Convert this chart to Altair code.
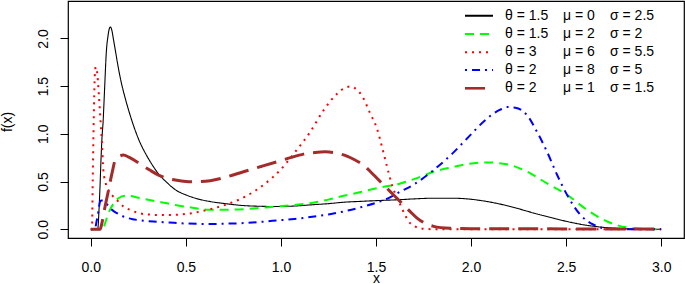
import altair as alt
import pandas as pd

# ---- data ----
black_x = [0, 0.030, 0.037, 0.043, 0.049, 0.054, 0.058, 0.065, 0.072, 0.082,
           0.090, 0.097, 0.103, 0.110, 0.120, 0.132, 0.144, 0.160, 0.180, 0.200,
           0.214, 0.250, 0.300, 0.338, 0.354, 0.400, 0.444, 0.500, 0.550, 0.628,
           0.700, 0.803, 0.900, 0.979, 1.070, 1.154, 1.250, 1.330, 1.420, 1.505,
           1.628, 1.700, 1.803, 1.900, 1.979, 2.070, 2.154, 2.240, 2.330, 2.420,
           2.505, 2.590, 2.680, 2.770, 2.860, 3.000]
black_y = [0, 0, 0.01, 0.2, 0.48, 0.75, 0.93, 1.14, 1.45, 1.87,
           2.02, 2.10, 2.12, 2.09, 1.98, 1.84, 1.70, 1.54, 1.38, 1.24,
           1.15, 0.95, 0.75, 0.63, 0.585, 0.49, 0.415, 0.36, 0.325, 0.29,
           0.27, 0.248, 0.24, 0.238, 0.243, 0.255, 0.268, 0.283, 0.292, 0.30,
           0.31, 0.318, 0.325, 0.325, 0.318, 0.295, 0.263, 0.22, 0.169, 0.122,
           0.081, 0.047, 0.023, 0.01, 0.003, 0]

green_x = [0, 0.060, 0.066, 0.075, 0.084, 0.100, 0.120, 0.145, 0.180, 0.205,
           0.250, 0.303, 0.350, 0.407, 0.444, 0.520, 0.620, 0.700, 0.803, 0.900,
           0.979, 1.070, 1.154, 1.250, 1.330, 1.420, 1.505, 1.628, 1.700, 1.803,
           1.900, 1.979, 2.084, 2.190, 2.295, 2.400, 2.505, 2.610, 2.716, 2.820,
           2.930, 3.000]
green_y = [0, 0, 0.01, 0.06, 0.117, 0.20, 0.27, 0.325, 0.35, 0.35,
           0.33, 0.308, 0.29, 0.27, 0.255, 0.23, 0.205, 0.203, 0.21, 0.225,
           0.238, 0.255, 0.273, 0.31, 0.35, 0.39, 0.43, 0.48, 0.525, 0.603,
           0.65, 0.683, 0.70, 0.68, 0.603, 0.48, 0.36, 0.203, 0.081, 0.019,
           0.002, 0]

red_x = [0, 0.006, 0.010, 0.014, 0.018, 0.022, 0.026, 0.032, 0.042, 0.051,
         0.058, 0.066, 0.080, 0.093, 0.110, 0.128, 0.150, 0.172, 0.210, 0.250,
         0.300, 0.350, 0.400, 0.450, 0.500, 0.550, 0.628, 0.707, 0.812, 0.908,
         0.996, 1.075, 1.154, 1.224, 1.295, 1.335, 1.368, 1.400, 1.426, 1.470,
         1.505, 1.532, 1.558, 1.584, 1.610, 1.628, 1.650, 1.672, 1.700, 1.750,
         1.800, 3.000]
red_y = [0, 0, 0.5, 1.0, 1.4, 1.65, 1.70, 1.66, 1.42, 1.14,
         0.93, 0.62, 0.47, 0.41, 0.36, 0.325, 0.28, 0.238, 0.20, 0.17,
         0.155, 0.15, 0.15, 0.152, 0.16, 0.175, 0.21, 0.255, 0.342, 0.464,
         0.62, 0.81, 1.02, 1.246, 1.42, 1.48, 1.496, 1.46, 1.40, 1.21,
         1.055, 0.86, 0.655, 0.464, 0.33, 0.255, 0.16, 0.081, 0.035, 0.005,
         0, 0]

blue_x = [0, 0.020, 0.023, 0.030, 0.037, 0.043, 0.049, 0.056, 0.070, 0.090,
          0.108, 0.120, 0.150, 0.179, 0.220, 0.268, 0.330, 0.407, 0.500, 0.628,
          0.700, 0.803, 0.900, 0.979, 1.070, 1.154, 1.250, 1.330, 1.420, 1.505,
          1.560, 1.628, 1.700, 1.803, 1.900, 1.979, 2.084, 2.150, 2.190, 2.233,
          2.295, 2.347, 2.400, 2.453, 2.505, 2.575, 2.645, 2.733, 3.000]
blue_y = [0, 0, 0.01, 0.08, 0.15, 0.23, 0.29, 0.30, 0.29, 0.25,
          0.21, 0.19, 0.155, 0.127, 0.105, 0.092, 0.08, 0.071, 0.06, 0.055,
          0.058, 0.064, 0.078, 0.092, 0.108, 0.127, 0.155, 0.186, 0.23, 0.28,
          0.32, 0.394, 0.47, 0.62, 0.79, 0.951, 1.16, 1.25, 1.28, 1.274,
          1.194, 1.02, 0.81, 0.568, 0.36, 0.151, 0.047, 0.002, 0]

brown_x = [0, 0.049, 0.060, 0.075, 0.090, 0.100, 0.115, 0.128, 0.150, 0.172,
           0.200, 0.235, 0.268, 0.310, 0.356, 0.400, 0.444, 0.500, 0.547, 0.628,
           0.700, 0.803, 0.900, 0.979, 1.050, 1.119, 1.180, 1.233, 1.300, 1.347,
           1.390, 1.435, 1.470, 1.505, 1.540, 1.575, 1.610, 1.645, 1.680, 1.716,
           1.760, 1.803, 1.890, 2.000, 3.000]
brown_y = [0, 0, 0.08, 0.238, 0.38, 0.48, 0.62, 0.725, 0.765, 0.777,
           0.755, 0.715, 0.673, 0.62, 0.568, 0.535, 0.516, 0.50, 0.497, 0.509,
           0.54, 0.603, 0.66, 0.707, 0.75, 0.787, 0.805, 0.811, 0.795, 0.766,
           0.725, 0.672, 0.605, 0.534, 0.464, 0.394, 0.324, 0.255, 0.185, 0.117,
           0.06, 0.03, 0.01, 0.005, 0.003]

thetas = ["1.5", "1.5", "3", "2", "2"]
mus = ["0", "2", "6", "8", "1"]
sigmas = ["2.5", "2", "5.5", "5", "1.5"]

x_ticks = [0, 0.5, 1.0, 1.5, 2.0, 2.5, 3.0]
y_ticks = [0, 0.5, 1.0, 1.5, 2.0]

# ---- styles ----
FONT = "Liberation Sans"
styles = [
    dict(color="#000000", dash=[1, 0], width=1.1, lwidth=2),
    dict(color="#00FF00", dash=[9, 6], width=2, lwidth=2),
    dict(color="#FF0000", dash=[2, 5], width=2, lwidth=2),
    dict(color="#0000FF", dash=[2, 5, 8, 5], width=2, lwidth=2),
    dict(color="#A52A2A", dash=[20, 9], width=3, lwidth=2.6),
]
series = [(black_x, black_y), (green_x, green_y), (red_x, red_y),
          (blue_x, blue_y), (brown_x, brown_y)]

xscale = alt.Scale(domain=[-0.12, 3.12], nice=False, zero=False)
yscale = alt.Scale(domain=[-0.092, 2.392], nice=False, zero=False)

xaxis = alt.Axis(values=x_ticks, format=".1f", title="x", grid=False, domain=False,
                 tickSize=8, tickColor="black", labelFontSize=14, labelFont=FONT,
                 labelColor="black", labelPadding=14, labelFlush=False,
                 titleFontSize=14, titleFont=FONT, titleFontWeight="normal",
                 titleColor="black", titleBaseline="alphabetic", titleY=44)
yaxis = alt.Axis(values=y_ticks, format=".1f", title="f(x)", grid=False, domain=False,
                 tickSize=8, tickColor="black", labelFontSize=14, labelFont=FONT,
                 labelColor="black", labelPadding=13, labelAngle=270,
                 labelAlign="center", labelBaseline="alphabetic", labelFlush=False,
                 titleFontSize=14, titleFont=FONT, titleFontWeight="normal",
                 titleColor="black", titleAngle=270, titleAlign="center",
                 titleBaseline="alphabetic", titleX=-57, titleY=120.5)

layers = []
for (xs, ys), st in zip(series, styles):
    df = pd.DataFrame({"x": xs, "y": ys})
    layers.append(
        alt.Chart(df).mark_line(color=st["color"], strokeDash=st["dash"],
                                strokeWidth=st["width"], interpolate="monotone",
                                strokeCap="butt", clip=True)
        .encode(x=alt.X("x:Q", scale=xscale, axis=xaxis),
                y=alt.Y("y:Q", scale=yscale, axis=yaxis))
    )

# ---- legend (top right, no box) ----
row_y = [14.7, 33.0, 51.3, 69.0, 87.3]
for i, st in enumerate(styles):
    ldf = pd.DataFrame({"t": ["θ = " + thetas[i]], "m": ["μ = " + mus[i]],
                        "s": ["σ = " + sigmas[i]]})
    base = alt.Chart(ldf)
    layers.append(
        base.mark_rule(color=st["color"], strokeDash=st["dash"],
                       strokeWidth=st["lwidth"], strokeCap="butt")
        .encode(x=alt.value(397), x2=alt.value(425), y=alt.value(row_y[i]))
    )
    for field, xpos in (("t", 437), ("m", 495), ("s", 542)):
        layers.append(
            base.mark_text(align="left", baseline="middle", fontSize=14,
                           font=FONT, color="black")
            .encode(x=alt.value(xpos), y=alt.value(row_y[i]), text=f"{field}:N")
        )

chart = (
    alt.layer(*layers)
    .properties(width=616, height=237, background="white",
                padding={"left": 68, "top": 1, "right": 1, "bottom": 46},
                autosize=alt.AutoSizeParams(type="none"))
    .configure_view(stroke="black", strokeWidth=1.2)
)

chart.save("out.html", embed_options={"renderer": "svg", "actions": False})
